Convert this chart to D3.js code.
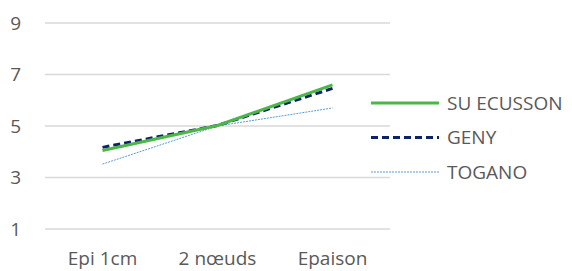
<!DOCTYPE html>
<html>
<head>
<meta charset="utf-8">
<script src="https://cdn.jsdelivr.net/npm/d3@7"></script>
<style>
  body { margin: 0; background: #fff; }
  text { font-family: "Open Sans", sans-serif; fill: #595959; }
</style>
</head>
<body>
<div id="chart"></div>
<script>
// data
const stages = ["Epi 1cm", "2 nœuds", "Epaison"];
const suEcusson = [4.05, 5.02, 6.6];
const geny = [4.17, 5.02, 6.46];
const togano = [3.52, 5.0, 5.7];
const yTicks = [1, 3, 5, 7, 9];
const seriesNames = ["SU ECUSSON", "GENY", "TOGANO"];

const width = 572, height = 271;
const margin = {top: 23, right: 182, bottom: 42, left: 45};
const fs = 19;

const series = [
  {name: seriesNames[0], values: suEcusson, color: "#4cb748", w: 3, dash: null},
  {name: seriesNames[1], values: geny, color: "#0c2466", w: 3, dash: "7,4"},
  {name: seriesNames[2], values: togano, color: "#5b9bd5", w: 1, dash: "2,1"}
];

const svg = d3.select("#chart")
  .append("svg")
  .attr("width", width)
  .attr("height", height);

const x = d3.scalePoint()
  .domain(stages)
  .range([margin.left, width - margin.right])
  .padding(0.5);

const y = d3.scaleLinear()
  .domain([1, 9])
  .range([height - margin.bottom, margin.top]);

// gridlines
svg.append("g")
  .selectAll("line")
  .data(yTicks)
  .join("line")
  .attr("x1", margin.left)
  .attr("x2", width - margin.right)
  .attr("y1", d => y(d))
  .attr("y2", d => y(d))
  .attr("stroke", "#d9d9d9")
  .attr("stroke-width", 1.5);

// y labels
svg.append("g")
  .selectAll("text")
  .data(yTicks)
  .join("text")
  .attr("x", 21)
  .attr("y", d => y(d))
  .attr("dy", "0.35em")
  .attr("text-anchor", "end")
  .attr("font-size", fs)
  .text(d => d);

// x labels
svg.append("g")
  .selectAll("text")
  .data(stages)
  .join("text")
  .attr("x", d => x(d))
  .attr("y", 265)
  .attr("text-anchor", "middle")
  .attr("font-size", fs)
  .text(d => d);

const line = d3.line()
  .x((d, i) => x(stages[i]))
  .y(d => y(d));

svg.append("g")
  .selectAll("path")
  .data(series.slice().reverse())
  .join("path")
  .attr("d", d => line(d.values))
  .attr("fill", "none")
  .attr("stroke", d => d.color)
  .attr("stroke-width", d => d.w)
  .attr("stroke-dasharray", d => d.dash);

// legend
const legend = svg.append("g")
  .selectAll("g")
  .data(series)
  .join("g")
  .attr("transform", (d, i) => `translate(371,${103 + i * 34.5})`);

legend.append("line")
  .attr("x1", 0)
  .attr("x2", 68)
  .attr("stroke", d => d.color)
  .attr("stroke-width", d => d.w)
  .attr("stroke-dasharray", d => d.dash);

legend.append("text")
  .attr("x", 76)
  .attr("dy", "0.35em")
  .attr("font-size", fs)
  .text(d => d.name);
</script>
</body>
</html>
